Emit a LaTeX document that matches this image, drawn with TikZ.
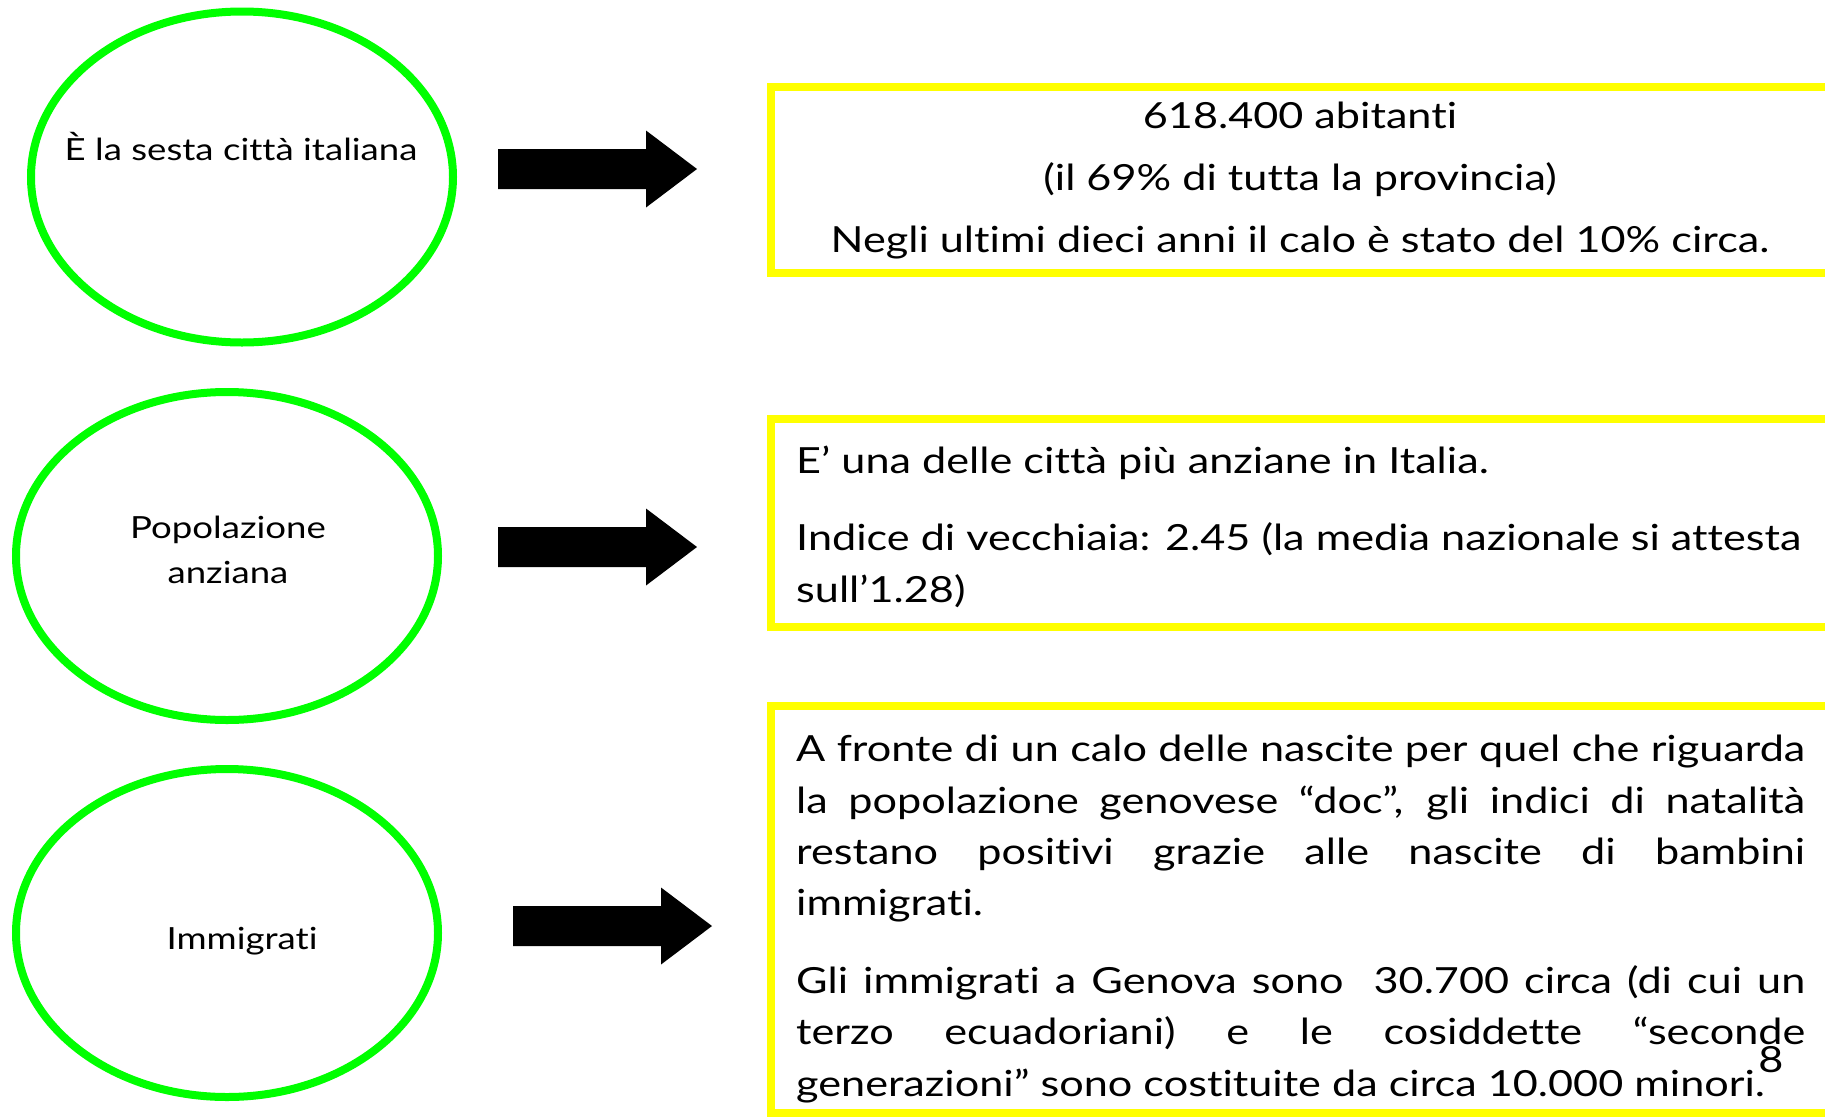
\documentclass[tikz,border=0pt]{standalone}
\usepackage{fontspec}
\setmainfont{Lato}[FakeStretch=1.2, Ligatures={TeX,NoCommon}]
\usetikzlibrary{shapes.geometric}
\definecolor{lgreen}{RGB}{0,255,0}
\definecolor{lyellow}{RGB}{255,255,0}
\newcommand{\jline}[1]{\makebox[1009pt][s]{#1}}
\begin{document}
\begin{tikzpicture}[x=1pt,y=-1pt,
  oval/.style={ellipse, draw=lgreen, line width=8pt, inner sep=0pt, outer sep=0pt},
  infobox/.style={draw=lyellow, line width=8pt, inner sep=0pt, outer sep=0pt, anchor=north west, minimum width=1150pt},
  ovaltext/.style={font=\fontsize{30.5}{45}\selectfont, align=center, anchor=base},
  boxtext/.style={font=\fontsize{36}{51.2}\selectfont, inner sep=0pt},
  bigarrow/.style={fill=black}]
\useasboundingbox (0,0) rectangle (1825,1117);
\clip (0,0) rectangle (1825,1117);

% ellipses
\node[oval, minimum width=422pt, minimum height=331pt] (e1) at (242,177) {};
\node[oval, minimum width=422pt, minimum height=328pt] (e2) at (227,556) {};
\node[oval, minimum width=422pt, minimum height=328pt] (e3) at (227,933) {};
\node[ovaltext] (t1) at (241,160) {È la sesta città italiana};
\node[ovaltext] (t2) at (228,583) {Popolazione\\anziana};
\node[ovaltext] (t3) at (242,949) {Immigrati};

% boxes
\node[infobox, minimum height=186pt] (b1) at (771,87) {};
\node[infobox, minimum height=208pt] (b2) at (771,419) {};
\node[infobox, minimum height=407pt] (b3) at (771,706) {};

% arrows
\coordinate (a1) at (498,169);
\coordinate (a2) at (498,547);
\coordinate (a3) at (513,926);
\foreach \a in {a1,a2,a3}{
  \fill[bigarrow] (\a) ++(0,-20) -- ++(148,0) -- ++(0,-18.5) -- ++(51,38.5)
    -- ++(-51,38.5) -- ++(0,-18.5) -- ++(-148,0) -- cycle;
}

% box texts
\node[boxtext, align=center, anchor=base] (bt1) at (1300,252)
  {618.400 abitanti\\[10.5pt](il 69\% di tutta la provincia)\\[10.5pt]Negli ultimi dieci anni il calo è stato del 10\% circa.};
\node[boxtext, align=left, anchor=base west] (bt2) at (796,602)
  {E’ una delle città più anziane in Italia.\\[26pt]Indice di vecchiaia: 2.45 (la media nazionale si attesta\\sull’1.28)};
\node[boxtext, align=left, anchor=base west] (bt3) at (796,1096)
  {\jline{A fronte di un calo delle nascite per quel che riguarda}\\
   \jline{la popolazione genovese “doc”, gli indici di natalità}\\
   \jline{restano positivi grazie alle nascite di bambini}\\
   immigrati.\\[27pt]
   \jline{Gli immigrati a Genova sono\ \ 30.700 circa (di cui un}\\
   \jline{terzo ecuadoriani) e le cosiddette “seconde}\\
   generazioni” sono costituite da circa 10.000 minori.};
\node[boxtext, anchor=base] (pg) at (1771,1072) {8};
\end{tikzpicture}
\end{document}
